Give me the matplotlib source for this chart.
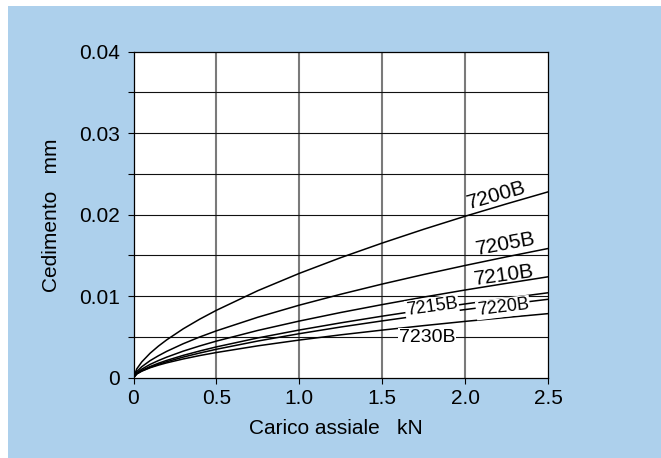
import matplotlib
matplotlib.use("Agg")
import matplotlib.pyplot as plt
from matplotlib.patches import Rectangle
from matplotlib.ticker import MultipleLocator, FixedLocator, FixedFormatter

plt.rcParams['font.family'] = ['Liberation Sans', 'DejaVu Sans']

# Axial load (kN)
load = [0, 0.02, 0.05, 0.1, 0.15, 0.2, 0.3, 0.4, 0.5, 0.75, 1.0,
        1.25, 1.5, 1.75, 2.0, 2.25, 2.5]

# Axial displacement (mm) for each bearing
d_7200B = [0, 0.00109, 0.00194, 0.00300, 0.00387, 0.00464, 0.00600, 0.00719,
           0.00827, 0.01068, 0.0128, 0.01473, 0.01652, 0.01821, 0.01981,
           0.02133, 0.0228]
d_7205B = [0, 0.00076, 0.00135, 0.00209, 0.00269, 0.00323, 0.00417, 0.00500,
           0.00575, 0.00742, 0.0089, 0.01024, 0.01149, 0.01266, 0.01377,
           0.01483, 0.01585]
d_7210B = [0, 0.00059, 0.00105, 0.00163, 0.00210, 0.00252, 0.00326, 0.00390,
           0.00449, 0.00580, 0.00695, 0.00800, 0.00897, 0.00989, 0.01076,
           0.01158, 0.01238]
d_7215B = [0, 0.00050, 0.00089, 0.00137, 0.00177, 0.00212, 0.00274, 0.00328,
           0.00378, 0.00488, 0.00585, 0.00673, 0.00755, 0.00832, 0.00905,
           0.00975, 0.01042]
d_7220B = [0, 0.00046, 0.00082, 0.00127, 0.00163, 0.00196, 0.00253, 0.00303,
           0.00349, 0.00450, 0.00540, 0.00622, 0.00697, 0.00768, 0.00836,
           0.00900, 0.00962]
d_7230B = [0, 0.00048, 0.00081, 0.00122, 0.00154, 0.00182, 0.00230, 0.00272,
           0.00309, 0.00391, 0.00462, 0.00526, 0.00584, 0.00639, 0.00691,
           0.00739, 0.00786]

series = [d_7200B, d_7205B, d_7210B, d_7215B, d_7220B, d_7230B]
names = ["7200B", "7205B", "7210B", "7215B", "7220B", "7230B"]

x_ticks = [0, 0.5, 1.0, 1.5, 2.0, 2.5]
x_ticklabels = ["0", "0.5", "1.0", "1.5", "2.0", "2.5"]
y_ticks = [0, 0.01, 0.02, 0.03, 0.04]
y_ticklabels = ["0", "0.01", "0.02", "0.03", "0.04"]

W, H = 661, 458
fig = plt.figure(figsize=(W / 100, H / 100), dpi=100)
fig.patch.set_facecolor("white")
fig.patches.append(Rectangle((8 / W, 0), 1 - 8 / W, 452 / H,
                             transform=fig.transFigure, facecolor="#ADD0EC",
                             edgecolor="none", zorder=-10))

ax = fig.add_axes([133.5 / W, (H - 377.7) / H, (548 - 133.5) / W, 326 / H])
ax.set_facecolor("white")
ax.set_xlim(0, 2.5)
ax.set_ylim(0, 0.04)

# grid: grey verticals, black horizontals
for xv in x_ticks[1:-1]:
    ax.axvline(xv, color="#7a7a7a", lw=1.5, zorder=1)
for i in range(1, 8):
    ax.axhline(i * 0.005, color="#111111", lw=0.8, zorder=1)

for vals in series:
    ax.plot(load, vals, color="black", lw=1.1, zorder=3)

ax.xaxis.set_major_locator(FixedLocator(x_ticks))
ax.xaxis.set_major_formatter(FixedFormatter(x_ticklabels))
ax.yaxis.set_major_locator(FixedLocator(y_ticks))
ax.yaxis.set_major_formatter(FixedFormatter(y_ticklabels))
ax.yaxis.set_minor_locator(MultipleLocator(0.005))
ax.tick_params(axis="both", which="both", direction="out", length=4.5,
               width=0.8, colors="black", labelsize=15)
ax.tick_params(axis="y", which="major", pad=5)
ax.tick_params(axis="x", which="major", pad=3.5)

for sp in ax.spines.values():
    sp.set_linewidth(0.9)
    sp.set_color("black")
    sp.set_zorder(4)

# curve labels
label_specs = [
    # name, x, y, rotation, size, boxed
    ("7200B", 2.192, 0.02242, 16, 15, False),
    ("7205B", 2.247, 0.01641, 10.5, 15, False),
    ("7210B", 2.235, 0.01260, 8, 15, False),
    ("7215B", 1.800, 0.00867, 8, 13, True),
    ("7220B", 2.228, 0.00860, 7, 13, True),
    ("7230B", 1.770, 0.00488, 0, 14, True),
]
for name, lx, ly, rot, fs, boxed in label_specs:
    kw = {}
    if boxed:
        kw["bbox"] = dict(facecolor="white", edgecolor="none", pad=0.8)
    ax.text(lx, ly, name, rotation=rot, fontsize=fs, ha="center", va="center",
            rotation_mode="anchor", zorder=5, **kw)

fig.text(336 / W, 1 - 428 / H, "Carico assiale   kN", fontsize=15,
         ha="center", va="center")
fig.text(51.5 / W, 1 - 215 / H, "Cedimento   mm", fontsize=15,
         ha="center", va="center", rotation=90)

fig.savefig("out.png", dpi=100)
